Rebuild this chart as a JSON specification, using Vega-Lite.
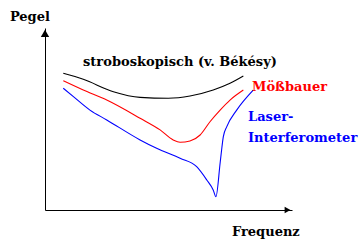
{
  "$schema": "https://vega.github.io/schema/vega-lite/v6.json",
  "width": 247,
  "height": 182,
  "autosize": {"type": "none"},
  "padding": {"left": 45, "top": 28, "right": 69, "bottom": 31},
  "background": "white",
  "config": {"view": {"stroke": null}},
  "datasets": {
    "curves": [
      {"series": "strobo", "i": 1, "x": 7.4, "y": 75.1},
      {"series": "strobo", "i": 2, "x": 15.5, "y": 71.8},
      {"series": "strobo", "i": 3, "x": 27.7, "y": 65.0},
      {"series": "strobo", "i": 4, "x": 38.5, "y": 61.9},
      {"series": "strobo", "i": 5, "x": 49.9, "y": 61.4},
      {"series": "strobo", "i": 6, "x": 58.7, "y": 62.6},
      {"series": "strobo", "i": 7, "x": 68.1, "y": 65.9},
      {"series": "strobo", "i": 8, "x": 74.9, "y": 69.6},
      {"series": "strobo", "i": 9, "x": 80.3, "y": 73.6},
      {"series": "moss", "i": 1, "x": 7.4, "y": 71.0},
      {"series": "moss", "i": 2, "x": 15.5, "y": 65.9},
      {"series": "moss", "i": 3, "x": 25.0, "y": 60.4},
      {"series": "moss", "i": 4, "x": 38.5, "y": 50.4},
      {"series": "moss", "i": 5, "x": 46.6, "y": 44.0},
      {"series": "moss", "i": 6, "x": 51.9, "y": 38.5},
      {"series": "moss", "i": 7, "x": 54.7, "y": 37.2},
      {"series": "moss", "i": 8, "x": 58.7, "y": 37.9},
      {"series": "moss", "i": 9, "x": 62.8, "y": 41.2},
      {"series": "moss", "i": 10, "x": 66.8, "y": 48.5},
      {"series": "moss", "i": 11, "x": 70.9, "y": 54.9},
      {"series": "moss", "i": 12, "x": 74.9, "y": 60.4},
      {"series": "moss", "i": 13, "x": 80.3, "y": 65.9},
      {"series": "laser", "i": 1, "x": 7.4, "y": 66.9},
      {"series": "laser", "i": 2, "x": 11.5, "y": 62.3},
      {"series": "laser", "i": 3, "x": 18.2, "y": 54.9},
      {"series": "laser", "i": 4, "x": 25.0, "y": 49.5},
      {"series": "laser", "i": 5, "x": 38.5, "y": 38.5},
      {"series": "laser", "i": 6, "x": 45.2, "y": 33.9},
      {"series": "laser", "i": 7, "x": 54.7, "y": 28.4},
      {"series": "laser", "i": 8, "x": 61.4, "y": 23.8},
      {"series": "laser", "i": 9, "x": 65.5, "y": 16.5},
      {"series": "laser", "i": 10, "x": 68.1, "y": 11.0},
      {"series": "laser", "i": 11, "x": 69.2, "y": 7.3},
      {"series": "laser", "i": 12, "x": 70.9, "y": 25.8},
      {"series": "laser", "i": 13, "x": 71.5, "y": 33.0},
      {"series": "laser", "i": 14, "x": 72.2, "y": 40.3},
      {"series": "laser", "i": 15, "x": 73.6, "y": 45.8},
      {"series": "laser", "i": 16, "x": 77.6, "y": 54.9},
      {"series": "laser", "i": 17, "x": 84.3, "y": 65.9}
    ],
    "labels": [
      {"series": "strobo", "x": 15.4, "y": 81.3, "text": "stroboskopisch (v. Békésy)"},
      {"series": "moss", "x": 83.8, "y": 67.6, "text": "Mößbauer"},
      {"series": "laser", "x": 82.2, "y": 51.1, "text": "Laser-"},
      {"series": "laser", "x": 82.2, "y": 39.6, "text": "Interferometer"},
      {"series": "axis", "x": -14.2, "y": 106.0, "text": "Pegel"},
      {"series": "axis", "x": 75.7, "y": -12.1, "text": "Frequenz"}
    ],
    "arrowY": [{"x": 0, "y": 97}],
    "arrowX": [{"x": 98.2, "y": 0}]
  },
  "layer": [
    {
      "data": {"name": "curves"},
      "mark": {"type": "line", "strokeWidth": 1.1, "clip": false, "interpolate": "monotone"},
      "encoding": {
        "x": {"field": "x", "type": "quantitative", "scale": {"domain": [0, 100]},
          "axis": {"domain": true, "domainColor": "black", "domainWidth": 1, "ticks": false, "labels": false, "grid": false, "title": null}},
        "y": {"field": "y", "type": "quantitative", "scale": {"domain": [0, 100]},
          "axis": {"domain": true, "domainColor": "black", "domainWidth": 1, "ticks": false, "labels": false, "grid": false, "title": null}},
        "color": {"field": "series", "type": "nominal",
          "scale": {"domain": ["strobo", "moss", "laser", "axis"], "range": ["#000000", "#ff0000", "#0000ff", "#000000"]},
          "legend": null},
        "order": {"field": "i", "type": "quantitative"}
      }
    },
    {
      "data": {"name": "arrowY"},
      "mark": {"type": "point", "shape": "triangle-up", "filled": true, "color": "black", "opacity": 1, "size": 70},
      "encoding": {
        "x": {"field": "x", "type": "quantitative"},
        "y": {"field": "y", "type": "quantitative"}
      }
    },
    {
      "data": {"name": "arrowX"},
      "mark": {"type": "point", "shape": "triangle-right", "filled": true, "color": "black", "opacity": 1, "size": 45},
      "encoding": {
        "x": {"field": "x", "type": "quantitative"},
        "y": {"field": "y", "type": "quantitative"}
      }
    },
    {
      "data": {"name": "labels"},
      "mark": {"type": "text", "font": "DejaVu Serif", "fontWeight": "bold", "fontSize": 13, "align": "left", "baseline": "middle"},
      "encoding": {
        "x": {"field": "x", "type": "quantitative"},
        "y": {"field": "y", "type": "quantitative"},
        "text": {"field": "text"},
        "color": {"field": "series", "type": "nominal", "legend": null}
      }
    }
  ]
}
